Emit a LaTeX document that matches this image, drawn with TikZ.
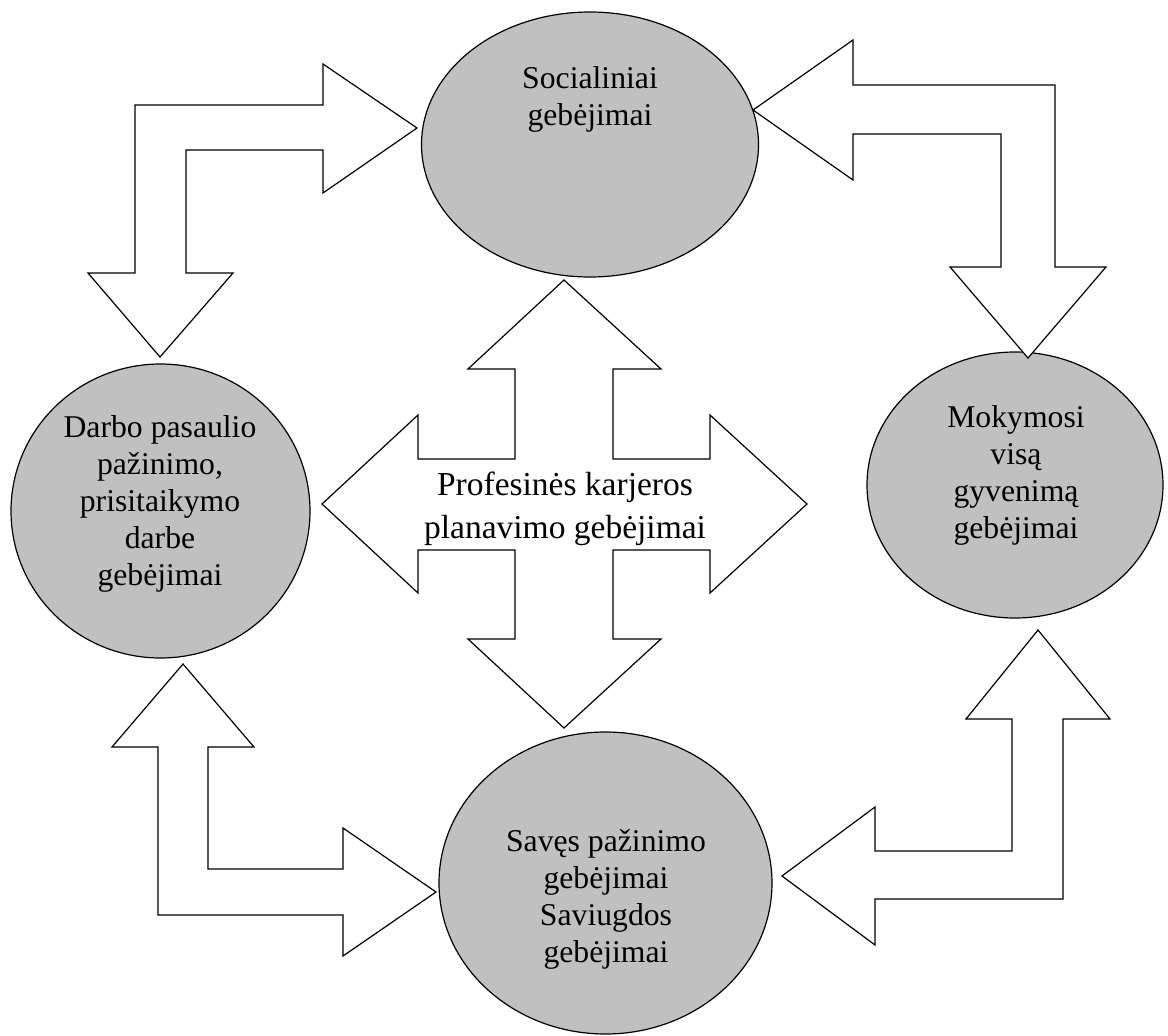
\documentclass[tikz,border=0pt]{standalone}
\usepackage{fontspec}
\setmainfont{Liberation Serif}
\usetikzlibrary{shapes.geometric}
\tikzset{
  bubble/.style={ellipse, draw=black, fill=bubblegray, line width=1.2pt, inner sep=0pt},
  blockarrow/.style={draw=black, fill=white, line width=1.2pt, line join=miter},
  bubbletext/.style={align=center, inner sep=0pt, font=\fontsize{31.7}{37}\selectfont},
  centertext/.style={align=center, inner sep=0pt, font=\fontsize{33.5}{43}\selectfont}
}
\definecolor{bubblegray}{HTML}{C0C0C0}
\begin{document}
\begin{tikzpicture}[x=1pt,y=-1pt]
\useasboundingbox (0,0) rectangle (1168,1036);
% ellipses
\node[bubble, minimum width=337pt, minimum height=265pt] (soc) at (590,144.5) {};
\node[bubble, minimum width=299pt, minimum height=294pt] (darb) at (160.5,511) {};
\node[bubble, minimum width=296pt, minimum height=266pt] (mok) at (1015,485) {};
\node[bubble, minimum width=333pt, minimum height=302pt] (sav) at (605.5,883) {};
% bent arrow top-left
\filldraw[blockarrow] (417,128) -- (323,193) -- (323,150) -- (186,150) -- (186,273) -- (233,273)
  -- (160,357) -- (88,273) -- (135,273) -- (135,105) -- (323,105) -- (323,64) -- cycle;
% bent arrow top-right
\filldraw[blockarrow] (753,110) -- (853,40) -- (853,85) -- (1055,85) -- (1055,267) -- (1106,267)
  -- (1028,358) -- (950,267) -- (1001,267) -- (1001,134) -- (853,134) -- (853,180) -- cycle;
% bent arrow bottom-left
\filldraw[blockarrow] (183,664) -- (254,747) -- (208,747) -- (208,869) -- (343,869) -- (343,828)
  -- (436,892) -- (343,956) -- (343,915) -- (158,915) -- (158,747) -- (112,747) -- cycle;
% bent arrow bottom-right
\filldraw[blockarrow] (1038,630) -- (1110,719) -- (1063,719) -- (1063,899) -- (875,899) -- (875,945)
  -- (782,876) -- (875,807) -- (875,851) -- (1012,851) -- (1012,719) -- (966,719) -- cycle;
% central four-way arrow
\filldraw[blockarrow] (564,280) -- (661,369) -- (613,369) -- (613,459) -- (710,459) -- (710,415)
  -- (807,504) -- (710,593) -- (710,550) -- (613,550) -- (613,639) -- (661,639) -- (564,728)
  -- (468,639) -- (515,639) -- (515,550) -- (418,550) -- (418,593) -- (322,504) -- (418,415)
  -- (418,459) -- (515,459) -- (515,369) -- (468,369) -- cycle;
% texts
\node[bubbletext] (soct) at (590,99) {Socialiniai\\gebėjimai};
\node[bubbletext] (darbt) at (160,504) {Darbo pasaulio\\pažinimo,\\prisitaikymo\\darbe\\gebėjimai};
\node[bubbletext] (mokt) at (1016,475) {Mokymosi\\visą\\gyvenimą\\gebėjimai};
\node[bubbletext] (savt) at (606,899) {Savęs pažinimo\\gebėjimai\\Saviugdos\\gebėjimai};
\node[centertext] (prof) at (565,509) {Profesinės karjeros\\planavimo gebėjimai};
\end{tikzpicture}
\end{document}
